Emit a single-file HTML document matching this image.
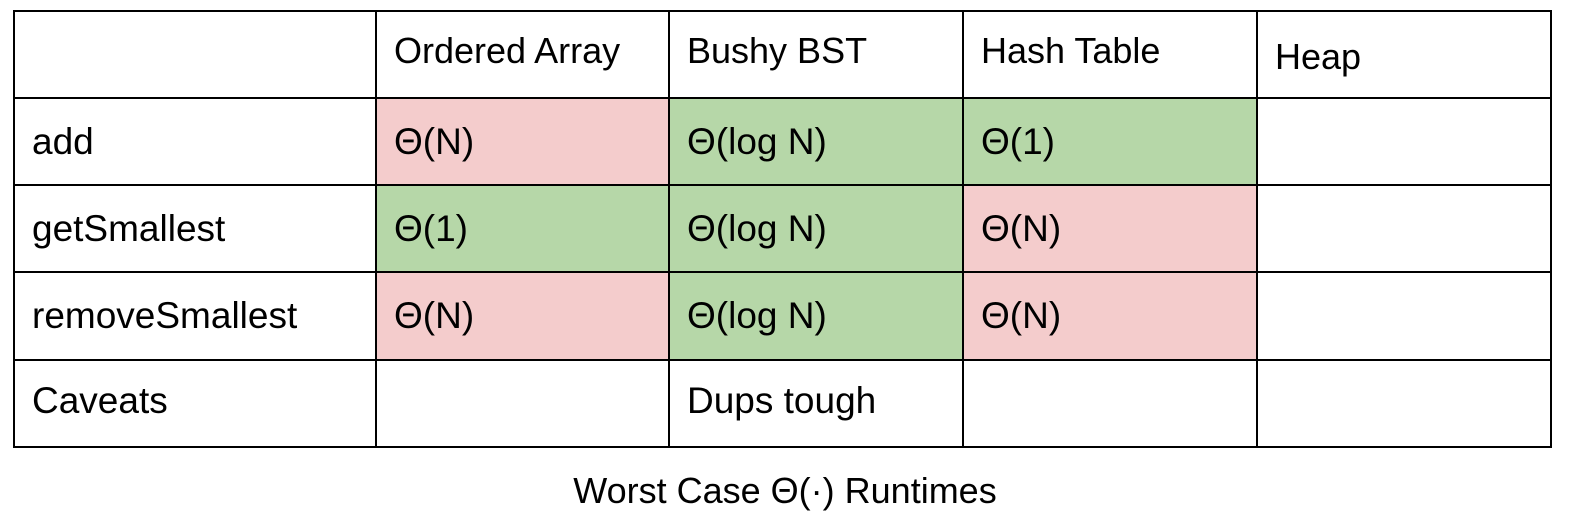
<!DOCTYPE html>
<html><head><style>
body{margin:0;width:1570px;height:520px;background:#fff;position:relative;font-family:"Liberation Sans",sans-serif;overflow:hidden}
.c{position:absolute;box-sizing:border-box;font-size:37px;color:#000;padding-left:18px;display:flex;align-items:center;white-space:nowrap}
.hd{font-size:36px}
.r{background:#f4cccc}.g{background:#b6d7a8}
.h{position:absolute;height:2px;background:#000;left:13px;width:1539px}
.v{position:absolute;width:2px;background:#000;top:10px;height:438px}
</style></head><body>
<div class="c hd" style="left:376px;top:11px;width:293px;height:87px;padding-bottom:8px">Ordered Array</div>
<div class="c hd" style="left:669px;top:11px;width:294px;height:87px;padding-bottom:8px">Bushy BST</div>
<div class="c hd" style="left:963px;top:11px;width:294px;height:87px;padding-bottom:8px">Hash Table</div>
<div class="c hd" style="left:1257px;top:11px;width:294px;height:87px;padding-top:4px">Heap</div>

<div class="c" style="left:14px;top:98px;width:362px;height:87px">add</div>
<div class="c r" style="left:376px;top:98px;width:293px;height:87px">Θ(N)</div>
<div class="c g" style="left:669px;top:98px;width:294px;height:87px">Θ(log N)</div>
<div class="c g" style="left:963px;top:98px;width:294px;height:87px">Θ(1)</div>

<div class="c" style="left:14px;top:185px;width:362px;height:87px">getSmallest</div>
<div class="c g" style="left:376px;top:185px;width:293px;height:87px">Θ(1)</div>
<div class="c g" style="left:669px;top:185px;width:294px;height:87px">Θ(log N)</div>
<div class="c r" style="left:963px;top:185px;width:294px;height:87px">Θ(N)</div>

<div class="c" style="left:14px;top:272px;width:362px;height:88px">removeSmallest</div>
<div class="c r" style="left:376px;top:272px;width:293px;height:88px">Θ(N)</div>
<div class="c g" style="left:669px;top:272px;width:294px;height:88px">Θ(log N)</div>
<div class="c r" style="left:963px;top:272px;width:294px;height:88px">Θ(N)</div>

<div class="c" style="left:14px;top:360px;width:362px;height:87px;padding-bottom:6px">Caveats</div>
<div class="c" style="left:669px;top:360px;width:294px;height:87px;padding-bottom:6px">Dups tough</div>

<div class="h" style="top:10px"></div>
<div class="h" style="top:97px"></div>
<div class="h" style="top:184px"></div>
<div class="h" style="top:271px"></div>
<div class="h" style="top:359px"></div>
<div class="h" style="top:446px"></div>
<div class="v" style="left:13px"></div>
<div class="v" style="left:375px"></div>
<div class="v" style="left:668px"></div>
<div class="v" style="left:962px"></div>
<div class="v" style="left:1256px"></div>
<div class="v" style="left:1550px"></div>

<div style="position:absolute;left:0;width:1570px;top:470px;text-align:center;font-size:36px">Worst Case Θ(·) Runtimes</div>
</body></html>
